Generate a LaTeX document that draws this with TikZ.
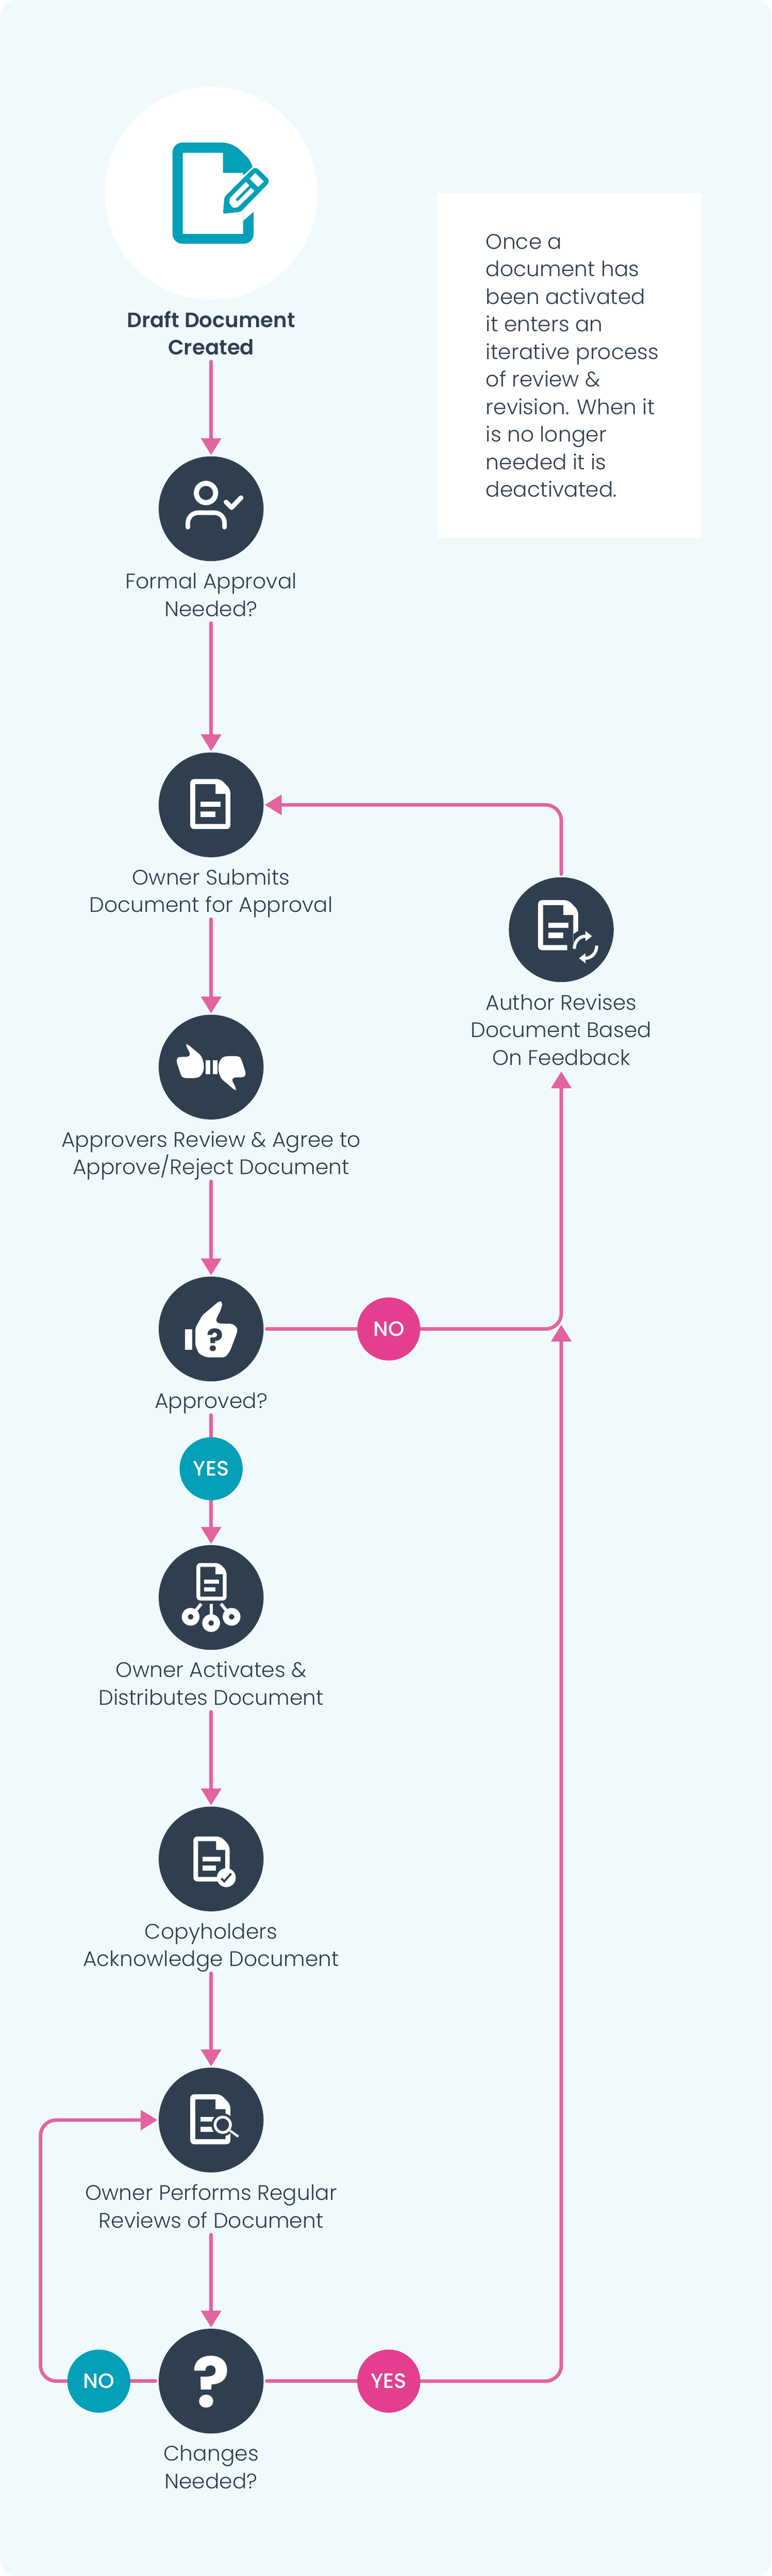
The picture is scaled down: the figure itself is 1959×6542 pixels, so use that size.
\documentclass[tikz,border=0pt]{standalone}
\usepackage{fontspec}
\setmainfont{Poppins}[UprightFont=* Light,BoldFont=* SemiBold]
\newfontfamily\pillfont{Poppins}[UprightFont=* Medium]
\newfontfamily\markfont{Poppins}[UprightFont=* Bold]
\usetikzlibrary{arrows.meta,backgrounds}
\definecolor{panelbg}{HTML}{F0FAFC}
\definecolor{stepdark}{HTML}{303F50}
\definecolor{inktext}{HTML}{2E3E52}
\definecolor{flowpink}{HTML}{E3639F}
\definecolor{nopink}{HTML}{E43E8F}
\definecolor{yesteal}{HTML}{049FB8}
\tikzset{
	stepdot/.style={circle,fill=stepdark,minimum size=2.66cm,inner sep=0pt,outer sep=0.03cm},
	steptext/.style={anchor=base,align=center,inner sep=0pt,text=inktext,text depth=0.115cm,font=\fontsize{15.2}{19.9}\selectfont},
	pill/.style={circle,minimum size=1.6cm,inner sep=0pt,text=white,font=\pillfont\fontsize{15}{17}\selectfont},
	flowline/.style={line width=0.09cm,color=flowpink,line cap=round,shorten <=0.05cm},
	flow/.style={flowline,-{Triangle[width=0.5cm,length=0.43cm]}},
	turn/.style={rounded corners=0.4cm}
}
\def\docicon[#1](#2){\begin{scope}[shift={(#2)},#1]
	\fill[white,rounded corners=0.1cm] (-51,-63.5) -- (-51,63.5) -- (26,63.5) -- (51,37.5) -- (51,-63.5) -- cycle;
	\fill[stepdark] (-38,50.5) -- (13,50.5) -- (13,25.5) -- (38.5,25.5) -- (38.5,-50.5) -- (-38,-50.5) -- cycle;
	\fill[white] (-25,-6.5) rectangle (26,6.5);
	\fill[white] (-25,-32.5) rectangle (13,-18.5);
\end{scope}}

\begin{document}
\begin{tikzpicture}[x=0.01cm,y=0.01cm]
	%%%%% START %%%%%
	\useasboundingbox (0,0) rectangle (1959,-6542);
	
	\fill[white] (536,-491) circle (270);
	
	\node[stepdot] (formal) at (536,-1292) {};
	\node[stepdot] (submit) at (536,-2044) {};
	\node[stepdot] (agree) at (536,-2710) {};
	\node[stepdot] (approved) at (536,-3375) {};
	\node[stepdot] (activate) at (536,-4057) {};
	\node[stepdot] (ack) at (536,-4721) {};
	\node[stepdot] (review) at (536,-5384) {};
	\node[stepdot] (changes) at (536,-6047) {};
	\node[stepdot] (revise) at (1425,-2361) {};
	
	\node[steptext,font=\bfseries\fontsize{15}{19.9}\selectfont] (drafttxt) at (536,-901) {Draft Document\\Created};
	\node[steptext] (formaltxt) at (536,-1565) {Formal Approval\\Needed?};
	\node[steptext] (submittxt) at (536,-2317) {Owner Submits\\Document for Approval};
	\node[steptext] (agreetxt) at (536,-2983) {Approvers Review \& Agree to\\Approve/Reject Document};
	\node[steptext] (approvedtxt) at (536,-3576) {Approved?};
	\node[steptext] (activatetxt) at (536,-4330) {Owner Activates \&\\Distributes Document};
	\node[steptext] (acktxt) at (536,-4994) {Copyholders\\Acknowledge Document};
	\node[steptext] (reviewtxt) at (536,-5658) {Owner Performs Regular\\Reviews of Document};
	\node[steptext] (changestxt) at (536,-6320) {Changes\\Needed?};
	\node[steptext] (revisetxt) at (1425,-2705) {Author Revises\\Document Based\\On Feedback};
	
	\node[pill,fill=yesteal] (yesa) at (536,-3730) {YES};
	\node[pill,fill=nopink] (nob) at (987,-3375) {NO};
	\node[pill,fill=yesteal] (noa) at (251,-6047) {NO};
	\node[pill,fill=nopink] (yesb) at (987,-6047) {YES};
	
	\coordinate (junct) at (1425,-3364);
	\coordinate (loop) at (103,-5384);
	
	\node[fill=white,rounded corners=0.05cm,minimum width=6.72cm,minimum height=8.75cm,inner sep=0pt] (note) at (1445,-928) {};
	\node[steptext,align=left,anchor=base west] (notetxt) at (1233,-1262) {Once a\\document has\\been activated\\it enters an\\iterative process\\of review \&\\revision. When it\\is no longer\\needed it is\\deactivated.};
	
	\begin{scope}[on background layer]
		\fill[panelbg,rounded corners=0.4cm] (0,0) rectangle (1959,-6542);
		\draw[flow] (drafttxt.south) -- (formal.north);
		\draw[flow] (formaltxt.south) -- (submit.north);
		\draw[flow] (submittxt.south) -- (agree.north);
		\draw[flow] (agreetxt.south) -- (approved.north);
		\draw[flowline] (approvedtxt.south) -- (yesa.north);
		\draw[flow,shorten <=0pt] (yesa.south) -- (activate.north);
		\draw[flow] (activatetxt.south) -- (ack.north);
		\draw[flow] (acktxt.south) -- (review.north);
		\draw[flow] (reviewtxt.south) -- (changes.north);
		\draw[flowline] (approved.east) -- (nob.west);
		\draw[flow,turn,shorten <=0pt,shorten >=0.035cm] (nob.east) -| (revisetxt.south);
		\draw[flow,turn] (revise.north) |- (submit.east);
		\draw[flowline] (changes.west) -- (noa.east);
		\draw[flow,turn,shorten <=0pt] (noa.west) -| (loop) -- (review.west);
		\draw[flowline] (changes.east) -- (yesb.west);
		\draw[flow,turn,shorten <=0pt] (yesb.east) -| (junct);
	\end{scope}
	
	% draft document with pencil
	\fill[yesteal,rounded corners=0.25cm] (438,-619) -- (438,-362) -- (590,-362) -- (644,-415) -- (644,-619) -- cycle;
	\fill[white] (464,-388) -- (566,-388) -- (566,-439) -- (617,-439) -- (617,-594) -- (464,-594) -- cycle;
	\fill[white] (617,-446) -- (646,-420) -- (646,-536) -- (617,-561) -- cycle;
	\fill[yesteal,rounded corners=0.05cm] (570,-500) -- (640,-430) -- (648,-425) -- (656,-430) -- (682,-455) -- (683,-464) -- (611,-538) -- (566,-543) -- cycle;
	\fill[white] (648,-439) -- (670,-461) -- (655,-475) -- (634,-454) -- cycle;
	\fill[white] (624,-462) -- (633,-471) -- (598,-506) -- (603,-512) -- (637,-477) -- (646,-485) -- (604,-526) -- (592,-528) -- (582,-516) -- (584,-503) -- cycle;
	
	% person with check
	\draw[white,line width=0.13cm] (523,-1252) circle (24.5);
	\draw[white,line width=0.115cm,line cap=round,rounded corners=0.26cm] (477,-1339) -- (477,-1302) -- (570,-1302) -- (570,-1339);
	\draw[white,line width=0.12cm,line cap=round,line join=round] (574,-1275) -- (588,-1289) -- (612,-1264);
	
	\docicon[](534,-2042);
	
	% two thumbs
	\foreach \a in {0,180}{
		\begin{scope}[shift={(536,-2710)},rotate=\a]
			\fill[white,rounded corners=0.06cm] (-62,60) -- (-25,29) -- (-18.5,10) -- (-18.5,-9) -- (-28,-25) -- (-41,-28) -- (-70,-28) -- (-76,-22) -- (-87.5,13) -- (-87.5,23) -- (-79,26) -- (-57,26) -- (-52,32) -- (-64,55) -- cycle;
		\end{scope}
	}
	\fill[white] (522.5,-2692.5) rectangle (533.5,-2727.5);
	\fill[white] (540.5,-2692.5) rectangle (551.5,-2727.5);
	
	% thumb with question
	\fill[white] (470,-3375) rectangle (488,-3428);
	\fill[white,rounded corners=0.06cm] (558,-3303) -- (565,-3308) -- (562,-3323) -- (547,-3354) -- (554,-3361) -- (591,-3362) -- (604,-3374) -- (600,-3389) -- (584,-3431) -- (572,-3447) -- (524,-3447) -- (505,-3438) -- (496,-3417) -- (496,-3372) -- (514,-3340) -- cycle;
	\node[text=stepdark,font=\markfont\fontsize{22}{24}\selectfont,inner sep=0pt] (askmark) at (546,-3403) {?};
	
	% document spreading to three rings
	\docicon[scale=0.75](537,-4017);
	\foreach \a/\b/\c/\d in {-52/-49/-25/-16,0/-65/0/-16,52/-49/25/-16}{
		\begin{scope}[shift={(536,-4057)}]
			\draw[white,line width=0.08cm] (\c,\d) -- (\a,\b);
			\fill[white] (\a,\b) circle (22.5);
			\fill[stepdark] (\a,\b) circle (7);
		\end{scope}
	}
	
	% document with check
	\docicon[scale=0.9](537,-4721);
	\fill[white] (574.5,-4768.5) circle (24);
	\draw[stepdark,line width=0.05cm] (562,-4770) -- (569,-4778) -- (587,-4758);
	
	% document with lens
	\docicon[](534,-5382);
	\fill[stepdark] (565.5,-5396) circle (29);
	\draw[stepdark,line width=0.12cm] (586,-5412) -- (605,-5425);
	\draw[white,line width=0.07cm] (565.5,-5396) circle (19.5);
	\draw[white,line width=0.06cm] (584,-5411) -- (605,-5426);
	
	\node[text=white,font=\markfont\fontsize{50}{50}\selectfont,inner sep=0pt] (bigmark) at (536,-6049) {?};
	
	% document with two turning arrows
	\docicon[](1417,-2349.5);
	\fill[stepdark] (1456,-2372) -- (1471,-2362) -- (1471,-2417) -- (1440,-2417) -- (1440,-2395) -- (1456,-2395) -- cycle;
	\foreach \a in {0,180}{
		\begin{scope}[shift={(1486.5,-2405.5)},rotate=\a]
			\draw[white,line width=0.08cm] (-28.5,-4) arc (180:90:28.5 and 32);
			\fill[white] (0,41) -- (16.5,28) -- (0,15.5) -- cycle;
		\end{scope}
	}
	
	%%%%% END %%%%%
\end{tikzpicture}
\end{document}
